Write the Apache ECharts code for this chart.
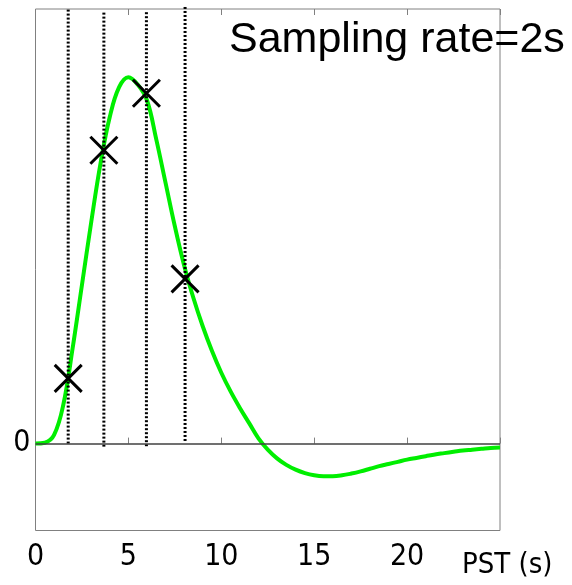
<!DOCTYPE html>
<html>
<head>
<meta charset="utf-8">
<script src="https://cdn.jsdelivr.net/npm/echarts@6/dist/echarts.min.js"></script>
<style>html,body{margin:0;padding:0;background:#fff;}#c{width:572px;height:585px;}</style>
</head>
<body>
<div id="c"></div>
<script>
// Peri-stimulus time (s) and haemodynamic response
const pst = [0,0.5,1,1.5,2,2.5,3,3.5,4,4.5,5,5.5,6,6.5,7,7.5,8,8.5,9,9.5,10,10.5,11,11.5,12,12.5,13,13.5,14,14.5,15,15.5,16,16.5,17,17.5,18,18.5,19,19.5,20,20.5,21,21.5,22,22.5,23,23.5,24,24.5,25];
const response = [0,0.002,0.02,0.09,0.22,0.365,0.51,0.645,0.752,0.82,0.843,0.826,0.79,0.70,0.60,0.50,0.41,0.335,0.27,0.213,0.163,0.12,0.082,0.047,0.012,-0.014,-0.034,-0.049,-0.060,-0.068,-0.073,-0.075,-0.075,-0.073,-0.069,-0.064,-0.058,-0.052,-0.047,-0.042,-0.037,-0.033,-0.029,-0.025,-0.022,-0.019,-0.016,-0.014,-0.012,-0.010,-0.009];
// Sample times (dotted lines) and sampled values (crosses)
const sampleTimes = [1.76, 3.68, 5.97, 8.05];
const sampleValues = [0.150, 0.675, 0.806, 0.379];
const lineTops = [1.0, 0.993, 0.995, 1.009];
const lineBottoms = [0.0, -0.007, -0.006, 0.006];
const xTicks = [0, 5, 10, 15, 20];
const titleText = 'Sampling rate=2s';
const xName = 'PST (s)';

const chart = echarts.init(document.getElementById('c'), null, {renderer: 'canvas'});
const narrow = '"Liberation Sans Narrow", "DejaVu Sans Condensed", sans-serif';

const series = [{
  type: 'line',
  data: pst.map((t, i) => [t, response[i]]),
  showSymbol: false,
  smooth: 0.4,
  lineStyle: {color: '#00ee00', width: 4},
  z: 3,
  markLine: {
    silent: true,
    symbol: 'none',
    label: {show: false},
    lineStyle: {color: '#404040', width: 1.5, type: 'solid'},
    data: [{yAxis: 0}]
  }
}];
sampleTimes.forEach((t, i) => {
  series.push({
    type: 'line',
    data: [[t, lineBottoms[i]], [t, lineTops[i]]],
    showSymbol: false,
    clip: false,
    lineStyle: {color: '#000', width: 3, type: [2, 2], opacity: 1},
    z: 4
  });
});
series.push({
  type: 'scatter',
  data: sampleTimes.map((t, i) => [t, sampleValues[i]]),
  symbol: 'path://M0,0L10,10M10,0L0,10',
  symbolSize: 27,
  itemStyle: {color: 'rgba(0,0,0,0)', borderColor: '#000', borderWidth: 3, opacity: 1},
  z: 5
});

chart.setOption({
  animation: false,
  grid: {left: 35.5, right: 72, top: 9, bottom: 54.5, show: true, borderColor: '#808080', borderWidth: 1},
  xAxis: [{
    type: 'value', min: 0, max: 25, interval: 5, position: 'bottom',
    axisLine: {show: false},
    axisTick: {show: true, inside: true, length: 6, lineStyle: {color: '#808080'}},
    splitLine: {show: false},
    axisLabel: {
      margin: 12, color: '#000', fontFamily: narrow, fontSize: 30,
      formatter: v => xTicks.indexOf(v) >= 0 ? String(v) : ''
    }
  }, {
    type: 'value', min: 0, max: 25, interval: 5, position: 'top',
    axisLine: {show: false},
    axisTick: {show: true, inside: true, length: 6, lineStyle: {color: '#808080'}},
    axisLabel: {show: false},
    splitLine: {show: false}
  }],
  yAxis: {
    type: 'value', min: -0.2, max: 1.0, interval: 0.2,
    axisLine: {show: false},
    axisTick: {show: false},
    splitLine: {show: false},
    axisLabel: {
      margin: 5, color: '#000', fontFamily: narrow, fontSize: 30,
      formatter: v => Math.abs(v) < 1e-9 ? '0' : ''
    }
  },
  graphic: [{
    type: 'text', left: 229, top: 19,
    style: {text: titleText, fill: '#000', font: '43px "Liberation Sans", Arial, sans-serif'}
  }, {
    type: 'text', left: 462, top: 551,
    style: {text: xName, fill: '#000', font: '29px "Liberation Sans Narrow", "DejaVu Sans Condensed", sans-serif'}
  }],
  series: series
});
</script>
</body>
</html>
